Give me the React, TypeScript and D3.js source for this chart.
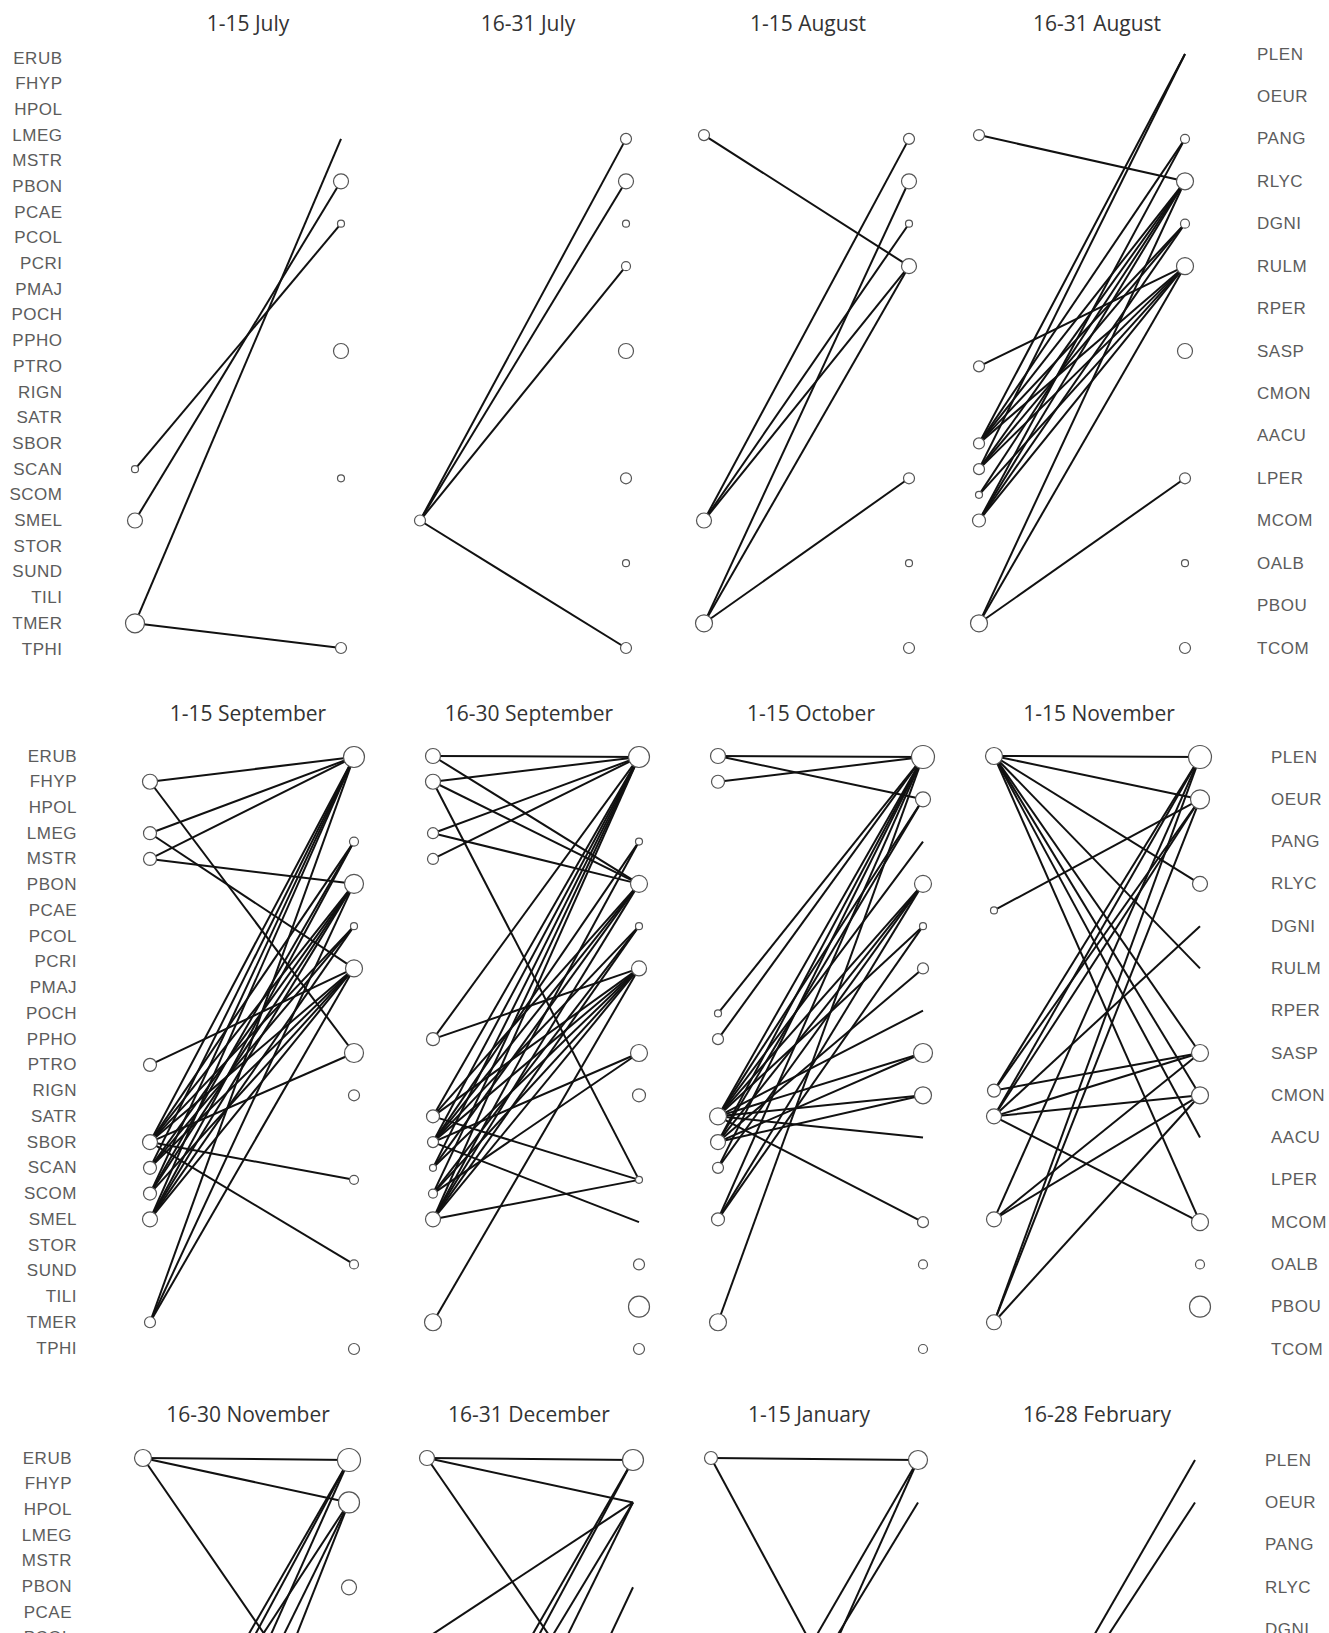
import React, { useRef, useEffect } from "react";
import * as d3 from "d3";

const birds = ["ERUB", "FHYP", "HPOL", "LMEG", "MSTR", "PBON", "PCAE", "PCOL", "PCRI", "PMAJ", "POCH", "PPHO",
  "PTRO", "RIGN", "SATR", "SBOR", "SCAN", "SCOM", "SMEL", "STOR", "SUND", "TILI", "TMER", "TPHI"];
const plants = ["PLEN", "OEUR", "PANG", "RLYC", "DGNI", "RULM", "RPER", "SASP", "CMON", "AACU", "LPER", "MCOM",
  "OALB", "PBOU", "TCOM"];
const periods = ["1-15 July", "16-31 July", "1-15 August", "16-31 August",
  "1-15 September", "16-30 September", "1-15 October", "1-15 November",
  "16-30 November", "16-31 December", "1-15 January", "16-28 February"];

// abundance level of each node (1 = smallest circle), links bird-plant
const julyABirds: [string, number][] = [["SCAN", 1], ["SMEL", 3], ["TMER", 4]];
const julyAPlants: [string, number][] = [["RLYC", 3], ["DGNI", 1], ["SASP", 3], ["LPER", 1], ["TCOM", 2]];
const julyALinks = ["SCAN-DGNI", "SMEL-RLYC", "TMER-PANG", "TMER-TCOM"];

const julyBBirds: [string, number][] = [["SMEL", 2]];
const julyBPlants: [string, number][] = [["PANG", 2], ["RLYC", 3], ["DGNI", 1], ["RULM", 1.5], ["SASP", 3], ["LPER", 2], ["OALB", 1], ["TCOM", 2]];
const julyBLinks = ["SMEL-PANG", "SMEL-RLYC", "SMEL-RULM", "SMEL-TCOM"];

const augABirds: [string, number][] = [["LMEG", 2], ["SMEL", 3], ["TMER", 3.5]];
const augAPlants: [string, number][] = [["PANG", 2], ["RLYC", 3], ["DGNI", 1], ["RULM", 3], ["LPER", 2], ["OALB", 1], ["TCOM", 2]];
const augALinks = ["LMEG-RULM", "SMEL-PANG", "SMEL-DGNI", "SMEL-RULM", "TMER-RLYC", "TMER-RULM", "TMER-LPER"];

const augBBirds: [string, number][] = [["LMEG", 2], ["PTRO", 2], ["SBOR", 2], ["SCAN", 2], ["SCOM", 1], ["SMEL", 2.5], ["TMER", 3.5]];
const augBPlants: [string, number][] = [["PANG", 1.5], ["RLYC", 3.5], ["DGNI", 1.5], ["RULM", 3.5], ["SASP", 3], ["LPER", 2], ["OALB", 1], ["TCOM", 2]];
const augBLinks = ["LMEG-RLYC", "PTRO-RULM", "SBOR-PLEN", "SBOR-PANG", "SBOR-RLYC", "SBOR-DGNI", "SBOR-RULM",
  "SCAN-PLEN", "SCAN-RLYC", "SCAN-DGNI", "SCAN-RULM", "SCOM-RLYC", "SCOM-RULM", "SMEL-PANG", "SMEL-RLYC",
  "SMEL-DGNI", "SMEL-RULM", "TMER-RLYC", "TMER-RULM", "TMER-LPER"];

const sepABirds: [string, number][] = [["FHYP", 3], ["LMEG", 2.5], ["MSTR", 2.5], ["PTRO", 2.5], ["SBOR", 3], ["SCAN", 2.5], ["SCOM", 2.5], ["SMEL", 3], ["TMER", 2]];
const sepAPlants: [string, number][] = [["PLEN", 4.5], ["PANG", 1.5], ["RLYC", 4], ["DGNI", 1], ["RULM", 3.5], ["SASP", 4], ["CMON", 2], ["LPER", 1.5], ["OALB", 1.5], ["TCOM", 2]];
const sepALinks = ["FHYP-PLEN", "FHYP-SASP", "LMEG-PLEN", "LMEG-RULM", "MSTR-PLEN", "MSTR-RLYC", "PTRO-RULM",
  "SBOR-PLEN", "SBOR-PANG", "SBOR-RLYC", "SBOR-DGNI", "SBOR-RULM", "SBOR-SASP", "SBOR-LPER", "SBOR-OALB",
  "SCAN-PLEN", "SCAN-RLYC", "SCAN-DGNI", "SCAN-RULM", "SCOM-PLEN", "SCOM-PANG", "SCOM-RLYC", "SCOM-RULM",
  "SMEL-PLEN", "SMEL-PANG", "SMEL-RLYC", "SMEL-DGNI", "SMEL-RULM", "TMER-PLEN", "TMER-RLYC", "TMER-RULM"];

const sepBBirds: [string, number][] = [["ERUB", 3], ["FHYP", 3], ["LMEG", 2], ["MSTR", 2], ["PPHO", 2.5], ["SATR", 2.5], ["SBOR", 2], ["SCAN", 1], ["SCOM", 1.5], ["SMEL", 3], ["TMER", 3.5]];
const sepBPlants: [string, number][] = [["PLEN", 4.5], ["PANG", 1], ["RLYC", 3.5], ["DGNI", 1], ["RULM", 3], ["SASP", 3.5], ["CMON", 2.5], ["LPER", 1], ["OALB", 2], ["PBOU", 4.5], ["TCOM", 2]];
const sepBLinks = ["ERUB-PLEN", "ERUB-RLYC", "FHYP-PLEN", "FHYP-RLYC", "FHYP-LPER", "LMEG-PLEN", "LMEG-RLYC",
  "MSTR-PLEN", "PPHO-PLEN", "PPHO-RULM", "SATR-PLEN", "SATR-RLYC", "SATR-RULM", "SATR-LPER", "SBOR-PLEN",
  "SBOR-PANG", "SBOR-RLYC", "SBOR-DGNI", "SBOR-RULM", "SBOR-SASP", "SBOR-MCOM", "SCAN-PLEN", "SCAN-RLYC",
  "SCAN-RULM", "SCOM-PLEN", "SCOM-DGNI", "SCOM-RULM", "SCOM-SASP", "SMEL-PLEN", "SMEL-PANG", "SMEL-RLYC",
  "SMEL-DGNI", "SMEL-RULM", "SMEL-LPER", "TMER-RULM"];

const octABirds: [string, number][] = [["ERUB", 3], ["FHYP", 2.5], ["POCH", 1], ["PPHO", 2], ["SATR", 3.5], ["SBOR", 3], ["SCAN", 2], ["SMEL", 2.5], ["TMER", 3.5]];
const octAPlants: [string, number][] = [["PLEN", 5], ["OEUR", 3], ["RLYC", 3.5], ["DGNI", 1], ["RULM", 2], ["SASP", 4], ["CMON", 3.5], ["MCOM", 2], ["OALB", 1.5], ["TCOM", 1.5]];
const octALinks = ["ERUB-PLEN", "ERUB-OEUR", "FHYP-PLEN", "POCH-PLEN", "PPHO-PLEN", "SATR-PLEN", "SATR-OEUR",
  "SATR-PANG", "SATR-RLYC", "SATR-DGNI", "SATR-RPER", "SATR-SASP", "SATR-CMON", "SATR-AACU", "SATR-MCOM",
  "SBOR-PLEN", "SBOR-OEUR", "SBOR-RLYC", "SBOR-RULM", "SBOR-SASP", "SBOR-CMON", "SCAN-PLEN", "SCAN-RLYC",
  "SMEL-PLEN", "SMEL-RLYC", "SMEL-DGNI", "TMER-PLEN"];

const novABirds: [string, number][] = [["ERUB", 3.5], ["PCAE", 1], ["RIGN", 2.5], ["SATR", 3], ["SMEL", 3], ["TMER", 3]];
const novAPlants: [string, number][] = [["PLEN", 5], ["OEUR", 4], ["RLYC", 3], ["SASP", 3.5], ["CMON", 3.5], ["MCOM", 3.5], ["OALB", 1.5], ["PBOU", 4.5]];
const novALinks = ["ERUB-PLEN", "ERUB-OEUR", "ERUB-RLYC", "ERUB-RULM", "ERUB-SASP", "ERUB-CMON", "ERUB-AACU",
  "ERUB-MCOM", "PCAE-OEUR", "RIGN-PLEN", "RIGN-OEUR", "RIGN-SASP", "SATR-PLEN", "SATR-OEUR", "SATR-DGNI",
  "SATR-SASP", "SATR-CMON", "SATR-MCOM", "SMEL-PLEN", "SMEL-SASP", "SMEL-CMON", "TMER-PLEN", "TMER-OEUR",
  "TMER-CMON"];

const novBBirds: [string, number][] = [["ERUB", 3.5], ["SATR", 3], ["SBOR", 3], ["SMEL", 3], ["TMER", 3]];
const novBPlants: [string, number][] = [["PLEN", 5], ["OEUR", 4.5], ["RLYC", 3]];
const novBLinks = ["ERUB-PLEN", "ERUB-OEUR", "ERUB-SASP", "SATR-PLEN", "SBOR-PLEN", "SMEL-PLEN", "SATR-OEUR",
  "SMEL-OEUR", "TMER-OEUR"];

const decBBirds: [string, number][] = [["ERUB", 3], ["SATR", 3], ["SBOR", 3], ["SMEL", 3], ["TMER", 3]];
const decBPlants: [string, number][] = [["PLEN", 4.5]];
const decBLinks = ["ERUB-PLEN", "ERUB-OEUR", "ERUB-SASP", "PCOL-OEUR", "SATR-PLEN", "SBOR-PLEN", "SMEL-OEUR",
  "SBOR-OEUR", "TMER-RLYC"];

const janABirds: [string, number][] = [["ERUB", 2.5], ["SATR", 3], ["SBOR", 3], ["SMEL", 3]];
const janAPlants: [string, number][] = [["PLEN", 4]];
const janALinks = ["ERUB-PLEN", "ERUB-AACU", "SATR-PLEN", "SMEL-PLEN", "SBOR-OEUR"];

const febBBirds: [string, number][] = [["SATR", 3]];
const febBPlants: [string, number][] = [];
const febBLinks = ["SATR-PLEN", "SATR-OEUR"];

const panels = [
  { birds: julyABirds, plants: julyAPlants, links: julyALinks },
  { birds: julyBBirds, plants: julyBPlants, links: julyBLinks },
  { birds: augABirds, plants: augAPlants, links: augALinks },
  { birds: augBBirds, plants: augBPlants, links: augBLinks },
  { birds: sepABirds, plants: sepAPlants, links: sepALinks },
  { birds: sepBBirds, plants: sepBPlants, links: sepBLinks },
  { birds: octABirds, plants: octAPlants, links: octALinks },
  { birds: novABirds, plants: novAPlants, links: novALinks },
  { birds: novBBirds, plants: novBPlants, links: novBLinks },
  { birds: decBBirds, plants: decBPlants, links: decBLinks },
  { birds: janABirds, plants: janAPlants, links: janALinks },
  { birds: febBBirds, plants: febBPlants, links: febBLinks },
];

// layout of the three rows of the composite figure
const rows = [
  { leftY: [58, 649], rightY: [54, 648], titleY: 23, leftLabelX: 62.5, rightLabelX: 1257,
    xs: [[135, 341], [420, 626], [704, 909], [979, 1185]], titleX: [248, 528, 808, 1097] },
  { leftY: [756, 1348], rightY: [757, 1349], titleY: 713, leftLabelX: 77, rightLabelX: 1271,
    xs: [[150, 354], [433, 639], [718, 923], [994, 1200]], titleX: [248, 529, 811, 1099] },
  { leftY: [1458, 2049], rightY: [1460, 2054], titleY: 1414, leftLabelX: 72, rightLabelX: 1265,
    xs: [[143, 349], [427, 633], [711, 918], [989, 1195]], titleX: [248, 529, 809, 1097] },
];

const W = 1329;
const H = 1633;
const labelFont = "'Liberation Sans', Arial, Helvetica, sans-serif";

const App = () => {
  const svgRef = useRef<SVGSVGElement>(null);

  useEffect(() => {
    document.body.style.margin = "0";
    const svg = d3.select(svgRef.current);
    svg.selectAll("*").remove();

    const rScale = d3.scaleLinear().domain([1, 5]).range([3.5, 11.5]);

    rows.forEach((row, ri) => {
      const yB = d3.scalePoint().domain(birds).range(row.leftY as [number, number]);
      const yP = d3.scalePoint().domain(plants).range(row.rightY as [number, number]);

      // species labels (the bottom row runs off the page, as in the original)
      svg.append("g").selectAll("text").data(birds.filter(d => yB(d)! < H + 8)).join("text")
        .attr("x", row.leftLabelX).attr("y", d => yB(d)!)
        .attr("text-anchor", "end").attr("dominant-baseline", "central")
        .attr("font-family", labelFont).attr("font-size", 17)
        .attr("letter-spacing", 0.5).attr("fill", "#5c5c5c").text(d => d);
      svg.append("g").selectAll("text").data(plants.filter(d => yP(d)! < H + 8)).join("text")
        .attr("x", row.rightLabelX).attr("y", d => yP(d)!)
        .attr("dominant-baseline", "central")
        .attr("font-family", labelFont).attr("font-size", 17)
        .attr("letter-spacing", 0.5).attr("fill", "#5c5c5c").text(d => d);

      row.xs.forEach(([xl, xr], ci) => {
        const idx = ri * 4 + ci;
        const p = panels[idx];
        const g = svg.append("g");

        g.append("text")
          .attr("x", row.titleX[ci]).attr("y", row.titleY)
          .attr("text-anchor", "middle").attr("dominant-baseline", "central")
          .attr("font-family", "'Open Sans', sans-serif").attr("font-size", 21)
          .attr("fill", "#333").text(periods[idx]);

        const links = p.links.map(s => s.split("-"));
        g.selectAll("line").data(links).join("line")
          .attr("x1", xl).attr("y1", d => yB(d[0])!)
          .attr("x2", xr).attr("y2", d => yP(d[1])!)
          .attr("stroke", "#111").attr("stroke-width", 2);

        g.selectAll("circle.b").data(p.birds).join("circle")
          .attr("class", "b")
          .attr("cx", xl).attr("cy", d => yB(d[0])!)
          .attr("r", d => rScale(d[1]))
          .attr("fill", "#fff").attr("stroke", "#555").attr("stroke-width", 1.2);
        g.selectAll("circle.p").data(p.plants).join("circle")
          .attr("class", "p")
          .attr("cx", xr).attr("cy", d => yP(d[0])!)
          .attr("r", d => rScale(d[1]))
          .attr("fill", "#fff").attr("stroke", "#555").attr("stroke-width", 1.2);
      });
    });
  }, []);

  return <svg ref={svgRef} width={W} height={H} style={{ display: "block", background: "#fff" }}></svg>;
};

export default App;
